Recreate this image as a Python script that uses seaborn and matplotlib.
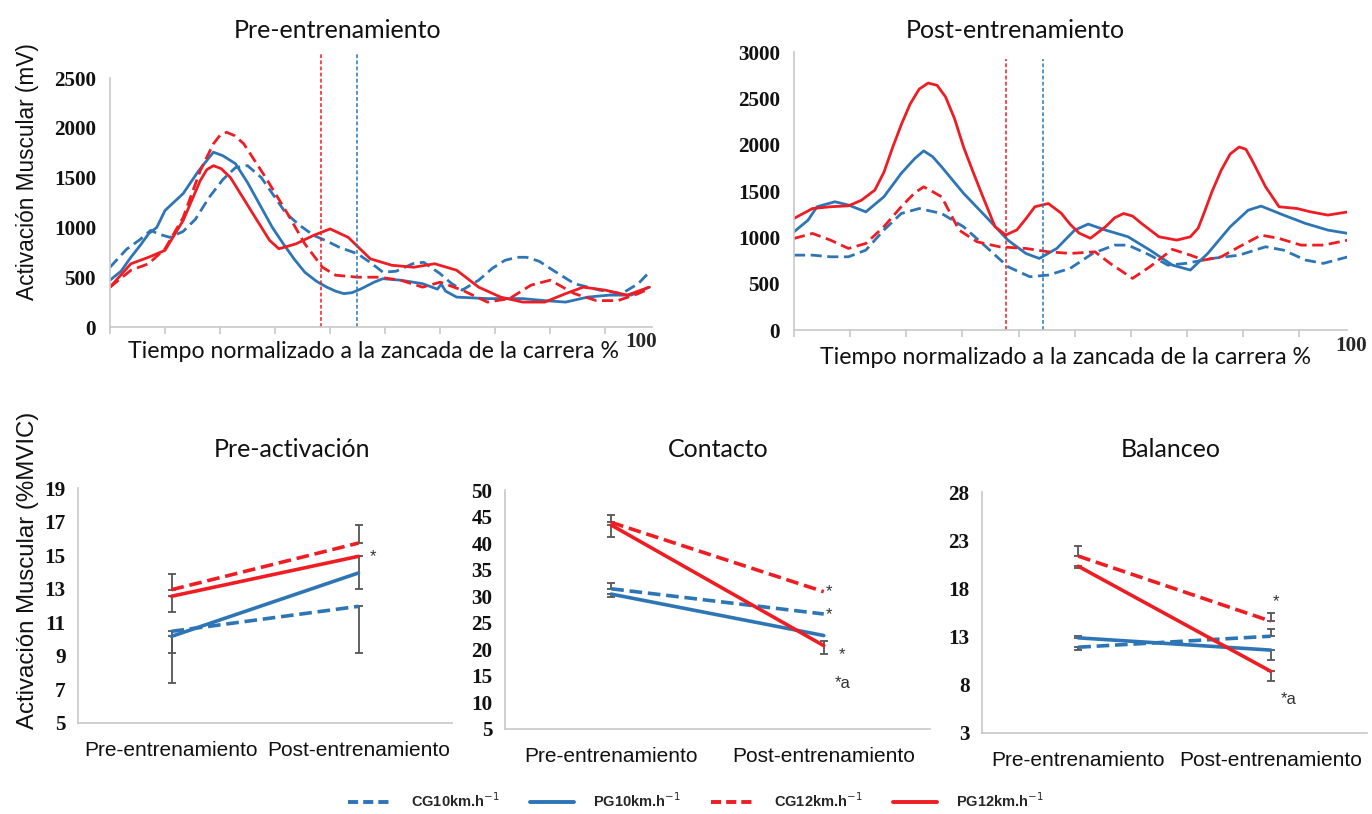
import numpy as np
import pandas as pd
import seaborn as sns
import matplotlib
matplotlib.use("Agg")
import matplotlib.pyplot as plt
from matplotlib.lines import Line2D

BLUE = "#2E75B6"
RED = "#EE1D23"
GRAY = "#555555"

# ---------------- Top: EMG curves (mV) ----------------
pre_cg10_x = [0, 3, 5.5, 7.4, 9, 10.9, 13.3, 15.5, 18, 20.5, 22.8, 25, 27.5, 30, 32, 34.5, 37, 39.5, 41.7, 45, 47.5,
              49.6, 52, 55, 57, 60, 62, 64, 67, 69.5, 71.8, 74, 75.7, 78, 80.5, 84.4, 89, 93, 96, 98]
pre_cg10_y = [600, 780, 880, 970, 930, 900, 960, 1080, 1300, 1480, 1600, 1620, 1500, 1300, 1140, 1020, 920, 860, 800,
              735, 640, 550, 560, 635, 650, 535, 440, 370, 470, 590, 670, 700, 700, 660, 570, 435, 370, 335, 435, 550]
pre_pg10_x = [0, 2, 3.8, 5.5, 7, 8.5, 10, 13.3, 16, 18, 18.8, 20.5, 22.8, 25, 27.5, 29.5, 31.5, 33.5, 35.4, 37.5, 39.4,
              41, 42.5, 44, 45.7, 48, 49.6, 52.8, 56.8, 59.5, 60.2, 61, 63, 68.6, 75, 79, 82.8, 86.8, 90.7, 94.7, 98]
pre_pg10_y = [470, 560, 700, 820, 935, 1000, 1170, 1340, 1560, 1700, 1755, 1720, 1640, 1450, 1200, 1000, 835, 680, 550,
              460, 400, 360, 335, 345, 385, 450, 485, 470, 435, 380, 430, 360, 300, 285, 285, 265, 250, 300, 320, 320, 400]
pre_cg12_x = [0, 3.8, 7, 10, 13.3, 16.4, 18.8, 20, 21.2, 22.7, 24.3, 28.3, 32.3, 35.4, 38.6, 41, 45, 48.9, 52.8, 56.8,
              60, 64, 68.6, 72.6, 76.5, 80, 84.4, 88.4, 92.3, 96, 98]
pre_cg12_y = [400, 570, 635, 785, 1100, 1570, 1840, 1925, 1955, 1920, 1840, 1500, 1135, 835, 600, 520, 500, 500, 470,
              400, 450, 370, 250, 285, 420, 470, 335, 265, 265, 335, 385]
pre_pg12_x = [0, 3.8, 7, 10, 13.3, 16.4, 17.6, 18.8, 20.2, 21.9, 26, 29, 30.7, 33.8, 37, 40, 43.3, 47.3, 51.2, 55.2, 59,
              63, 67, 71, 75, 79, 82.8, 86, 90, 94, 98]
pre_pg12_y = [400, 635, 700, 770, 1070, 1470, 1580, 1620, 1590, 1500, 1135, 870, 785, 835, 920, 985, 900, 685, 620, 600,
              635, 570, 400, 300, 250, 250, 335, 400, 370, 320, 400]

post_pg12_x = [0, 3.3, 6.5, 9.7, 12, 14.4, 16, 17.6, 19.2, 20.7, 22.3, 23.9, 25.5, 27, 28.6, 30.2, 31.8, 33.4, 35.8,
               37.7, 39.7, 41.3, 42.9, 45.3, 47.6, 49.2, 50.8, 52.8, 55.5, 57.1, 58.7, 60.3, 61.9, 65, 68.2, 70.6, 72,
               73, 74.5, 76.1, 77.7, 79.3, 80.5, 81.6, 84, 86.4, 89.6, 92, 95.1, 98.7]
post_pg12_y = [1204, 1311, 1330, 1340, 1400, 1510, 1700, 1975, 2230, 2440, 2600, 2665, 2640, 2515, 2280, 1975, 1720,
               1475, 1115, 1025, 1080, 1200, 1330, 1365, 1260, 1140, 1045, 990, 1115, 1210, 1257, 1230, 1150, 1006,
               970, 1006, 1100, 1257, 1500, 1725, 1900, 1975, 1950, 1830, 1545, 1330, 1311, 1275, 1240, 1275]
post_pg10_x = [0, 2.5, 4.1, 7.3, 9.7, 12.8, 16, 19.1, 21.5, 23.1, 24.7, 26.3, 30.2, 34.2, 38.1, 41.3, 43.7, 46.8, 50,
               52.4, 55.5, 59.5, 63.4, 67.4, 70.6, 73.7, 77.7, 80.9, 83.2, 87.2, 91.1, 95.1, 98.7]
post_pg10_y = [1060, 1185, 1330, 1384, 1348, 1275, 1437, 1690, 1850, 1933, 1870, 1760, 1475, 1222, 970, 826, 772, 880,
               1078, 1143, 1078, 1006, 862, 700, 647, 826, 1114, 1293, 1337, 1240, 1150, 1078, 1042]
post_cg12_x = [0, 3.3, 6.5, 9.7, 12.8, 16, 19.1, 21.5, 23.1, 24.5, 26.3, 29.4, 32.6, 36.6, 41.3, 45.3, 49.2, 53.6,
               56.3, 60.3, 63.4, 67.4, 70.6, 73, 76.1, 79.3, 83.2, 86.4, 90.3, 94.3, 98.7]
post_cg12_y = [988, 1042, 970, 880, 934, 1114, 1330, 1480, 1545, 1500, 1437, 1078, 952, 898, 880, 844, 826, 844, 719,
               557, 683, 870, 808, 755, 790, 898, 1024, 988, 916, 916, 970]
post_cg10_x = [0, 3.3, 6.5, 9.7, 12.8, 16, 19.1, 22.3, 26.3, 30.2, 34.2, 38.1, 42, 45.3, 49.2, 53.2, 57.1, 59.5, 63.4,
               66.6, 69.8, 74.5, 79.3, 84, 87.2, 91.1, 94.3, 98.7]
post_cg10_y = [808, 808, 790, 790, 862, 1078, 1257, 1311, 1257, 1114, 898, 683, 575, 593, 665, 826, 916, 916, 808, 700,
               719, 772, 808, 898, 862, 755, 719, 790]

pre_vlines = [38.3, 44.8]
post_vlines = [37.7, 44.3]

# ---------------- Bottom: %MVIC ----------------
phases = ["Pre-entrenamiento", "Post-entrenamiento"]
series_names = ["CG10km.h$^{-1}$", "PG10km.h$^{-1}$", "CG12km.h$^{-1}$", "PG12km.h$^{-1}$"]

pa_cg10 = [10.46, 11.95]
pa_pg10 = [10.16, 13.94]
pa_cg12 = [12.94, 15.72]
pa_pg12 = [12.55, 14.93]
pa_err = {  # (lower, upper) per phase
    "cg10": ([1.26, 2.75], [0, 0]),
    "pg10": ([2.76, 0], [0, 0]),
    "cg12": ([0, 0], [0.95, 1.05]),
    "pg12": ([0.95, 1.95], [0, 0]),
}

co_cg10 = [31.4, 26.65]
co_pg10 = [30.4, 22.6]
co_cg12 = [43.9, 30.85]
co_pg12 = [43.4, 20.7]
co_err = {
    "cg10": ([0, 0], [1.1, 0]),
    "pg10": ([0.6, 0], [0, 0]),
    "cg12": ([0, 0], [1.3, 0]),
    "pg12": ([2.3, 1.6], [0, 0.9]),
}

ba_cg10 = [11.9, 13.04]
ba_pg10 = [12.87, 11.6]
ba_cg12 = [21.35, 14.6]
ba_pg12 = [20.3, 9.4]
ba_err = {
    "cg10": ([0.3, 0], [0, 0.8]),
    "pg10": ([0, 1.0], [0.2, 0]),
    "cg12": ([0, 0], [1.05, 0.9]),
    "pg12": ([0.2, 1.0], [0, 0]),
}

pa_marks = [("*", 1.06, 14.9)]
co_marks = [("*", 1.01, 30.9), ("*", 1.01, 26.5), ("*", 1.07, 19.0), ("*a", 1.05, 13.5)]
ba_marks = [("*", 1.01, 16.6), ("*a", 1.05, 6.5)]

# ---------------- Styling ----------------
sns.set_theme(style="white")
plt.rcParams["font.family"] = ["Liberation Sans", "DejaVu Sans"]

fig = plt.figure(figsize=(13.72, 8.14), dpi=100)
W, H = 1372, 814


def box(l, r, b, t):
    return [l / W, 1 - b / H, (r - l) / W, (b - t) / H]


def fx(px):
    return px / W


def fy(py):
    return 1 - py / H


TICKFONT = dict(family="Liberation Serif", weight="bold", size=15.2)
TITLE_KW = dict(family="Lato", size=18, color="#111111", ha="center", va="center")
spine_col = "#C8C8C8"


def style_axes(ax):
    for s in ["top", "right"]:
        ax.spines[s].set_visible(False)
    for s in ["left", "bottom"]:
        ax.spines[s].set_color(spine_col)
        ax.spines[s].set_linewidth(1.2)
    for lab in ax.get_yticklabels():
        lab.set_fontfamily(TICKFONT["family"])
        lab.set_fontweight(TICKFONT["weight"])
        lab.set_fontsize(TICKFONT["size"])
        lab.set_color("#111111")


def top_panel(ax, curves, vlines, ymax, vtop, hundred_x):
    for (x, y, color, dashed) in curves:
        df = pd.DataFrame({"x": x, "y": y})
        sns.lineplot(data=df, x="x", y="y", ax=ax, color=color, lw=2.0, sort=False,
                     estimator=None, linestyle=(0, (4, 2)) if dashed else "-")
    for line in ax.get_lines():
        line.set_solid_joinstyle("round")
        line.set_dash_joinstyle("round")
    ax.set_xlim(0, 98.5)
    ax.set_ylim(0, ymax)
    ax.set_yticks(np.arange(0, ymax + 1, 500))
    ax.set_yticklabels([str(v) for v in np.arange(0, ymax + 1, 500)])
    ax.set_xticks(np.arange(0, 91, 10))
    ax.set_xticklabels([])
    ax.tick_params(axis="x", bottom=True, length=5, color=spine_col, width=1.2)
    ax.tick_params(axis="y", left=False, pad=4)
    for xv, c in zip(vlines, [RED, BLUE]):
        ax.plot([xv, xv], [0, vtop], color=c, lw=1.1, ls=(0, (2.5, 1.5)), clip_on=False)
    ax.set_xlabel("")
    ax.set_ylabel("")
    ax.text(hundred_x, -0.02, "100", transform=ax.transAxes, ha="center", va="top", **TICKFONT)
    style_axes(ax)


ax1 = fig.add_axes(box(110, 652, 327, 78))
top_panel(ax1, [(pre_cg10_x, pre_cg10_y, BLUE, True), (pre_pg10_x, pre_pg10_y, BLUE, False),
                (pre_cg12_x, pre_cg12_y, RED, True), (pre_pg12_x, pre_pg12_y, RED, False)],
          pre_vlines, 2500, 2740, 0.98)
ax2 = fig.add_axes(box(794, 1347, 330, 52))
top_panel(ax2, [(post_cg10_x, post_cg10_y, BLUE, True), (post_pg10_x, post_pg10_y, BLUE, False),
                (post_cg12_x, post_cg12_y, RED, True), (post_pg12_x, post_pg12_y, RED, False)],
          post_vlines, 3000, 2920, 1.007)

fig.text(fx(338), fy(30), "Pre-entrenamiento", **TITLE_KW)
fig.text(fx(1015), fy(30), "Post-entrenamiento", **TITLE_KW)
XL_KW = dict(family="Lato", size=16.7, color="#111111", ha="center", va="center")
fig.text(fx(373), fy(352), "Tiempo normalizado a la zancada de la carrera %", **XL_KW)
fig.text(fx(1066), fy(357), "Tiempo normalizado a la zancada de la carrera %", **XL_KW)


def bottom_panel(ax, vals, errs, marks, yticks):
    order = [("cg10", BLUE, True), ("pg10", BLUE, False), ("cg12", RED, True), ("pg12", RED, False)]
    xs = [0, 1]
    for key, color, dashed in order:
        lo, hi = errs[key]
        y = vals[key]
        for i in range(2):
            if lo[i] > 0 or hi[i] > 0:
                ax.errorbar([xs[i]], [y[i]], yerr=[[lo[i]], [hi[i]]], fmt="none", ecolor=GRAY,
                            elinewidth=1.3, capsize=3, capthick=1.3, zorder=1)
    for key, color, dashed in order:
        df = pd.DataFrame({"x": xs, "y": vals[key]})
        sns.lineplot(data=df, x="x", y="y", ax=ax, color=color, lw=2.6, estimator=None,
                     linestyle=(0, (3.5, 1.6)) if dashed else "-", zorder=3)
    for txt, xm, ym in marks:
        ax.text(xm, ym, txt, ha="left", va="center", fontsize=12, color="#333333")
    ax.set_xlim(-0.5, 1.5)
    ax.set_ylim(yticks[0], yticks[-1])
    ax.set_yticks(yticks)
    ax.set_yticklabels([str(v) for v in yticks])
    ax.set_xticks(xs)
    ax.set_xticklabels(phases, fontsize=15, color="#111111")
    ax.tick_params(axis="x", bottom=False, pad=7)
    ax.tick_params(axis="y", left=False, pad=3)
    ax.set_xlabel("")
    ax.set_ylabel("")
    style_axes(ax)


ax3 = fig.add_axes(box(78, 452, 723, 488))
bottom_panel(ax3, {"cg10": pa_cg10, "pg10": pa_pg10, "cg12": pa_cg12, "pg12": pa_pg12}, pa_err, pa_marks,
             list(range(5, 20, 2)))
ax4 = fig.add_axes(box(505, 930, 729, 490))
bottom_panel(ax4, {"cg10": co_cg10, "pg10": co_pg10, "cg12": co_cg12, "pg12": co_pg12}, co_err, co_marks,
             list(range(5, 51, 5)))
ax5 = fig.add_axes(box(982, 1367, 733, 492))
bottom_panel(ax5, {"cg10": ba_cg10, "pg10": ba_pg10, "cg12": ba_cg12, "pg12": ba_pg12}, ba_err, ba_marks,
             list(range(3, 29, 5)))

fig.text(fx(292), fy(449), "Pre-activación", **TITLE_KW)
fig.text(fx(718), fy(449), "Contacto", **TITLE_KW)
fig.text(fx(1171), fy(449), "Balanceo", **TITLE_KW)

fig.text(fx(28), fy(172), "Activación Muscular (mV)", rotation=90, ha="center", va="center",
         fontsize=16.3, color="#111111")
fig.text(fx(28), fy(570), "Activación Muscular (%MVIC)", rotation=90, ha="center", va="center",
         fontsize=17.3, color="#111111")

handles = [Line2D([], [], color=BLUE, lw=2.8, ls=(0, (2.6, 1.3))),
           Line2D([], [], color=BLUE, lw=2.8, ls="-"),
           Line2D([], [], color=RED, lw=2.8, ls=(0, (2.6, 1.3))),
           Line2D([], [], color=RED, lw=2.8, ls="-")]
fig.legend(handles, series_names, loc="center", bbox_to_anchor=(0.507, fy(801)), ncol=4, frameon=False,
           handlelength=3.0, handletextpad=1.3, columnspacing=2.1,
           prop=dict(size=10.5, weight="bold", family="Liberation Sans"))

fig.savefig("out.png", dpi=100)
